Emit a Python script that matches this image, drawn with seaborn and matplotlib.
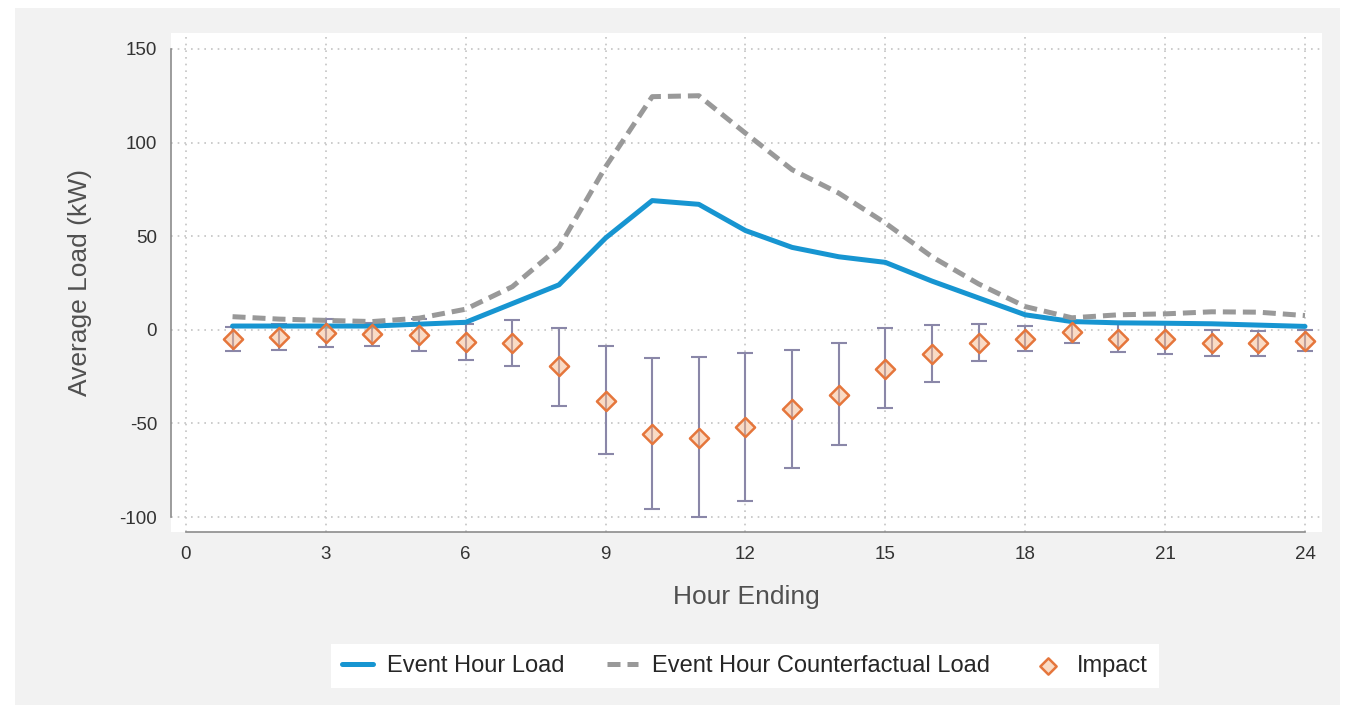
import numpy as np
import pandas as pd
import matplotlib
matplotlib.use("Agg")
import matplotlib.pyplot as plt
from matplotlib.patches import Rectangle
import seaborn as sns

# Data
hours = list(range(1, 25))
event_load = [2, 2, 2, 2, 3, 4, 14, 24, 49, 69, 67, 53,
              44, 39, 36, 26, 17, 8, 4.4, 3.7, 3.5, 3.2, 2.5, 1.8]
counterfactual_load = [7, 5.7, 5, 4.4, 6.2, 11, 23, 44, 87, 124.5, 125, 105,
                       85.5, 73, 57, 39, 24.5, 12.4, 6.4, 8, 8.5, 9.6, 9.4, 7.6]
impact = [-5, -3.9, -1.8, -2.5, -2.9, -6.6, -7.1, -19.6, -37.8, -55.6, -57.7, -52,
          -42.4, -34.7, -20.7, -12.8, -6.8, -4.8, -1.4, -4.8, -5, -7.1, -7.1, -5.9]
impact_lower = [-11.6, -11, -9.4, -8.5, -11.6, -16.4, -19.6, -40.6, -66.4, -95.8, -100.2, -91.2,
                -73.9, -61.8, -41.8, -27.9, -16.9, -11.6, -6.8, -12.1, -12.8, -13.9, -13.9, -11.6]
impact_upper = [1.6, 3.2, 5.5, 3.5, 5.5, 3.2, 5.3, 0.7, -8.9, -15.1, -14.8, -12.5,
                -10.7, -7.1, 0.7, 2.7, 3.2, 1.8, 4, 3, 3, 0, -0.4, 0]

x_ticks = [0, 3, 6, 9, 12, 15, 18, 21, 24]
y_ticks = [-100, -50, 0, 50, 100, 150]

df = pd.DataFrame({
    "hour": hours,
    "event": event_load,
    "counterfactual": counterfactual_load,
    "impact": impact,
    "lo": impact_lower,
    "hi": impact_upper,
})

BLUE = "#1795d1"
GRAY = "#999999"
BAR = "#8a87a8"
ORANGE = "#e5763c"
BG = "#f2f2f2"

sns.set_theme(style="white")
plt.rcParams["font.family"] = ["Liberation Sans", "DejaVu Sans"]
plt.rcParams["axes.unicode_minus"] = False

fig = plt.figure(figsize=(13.5, 7.15), dpi=100)
fig.patch.set_facecolor("white")
fig.patches.append(Rectangle((15 / 1350, 1 - 705 / 715), 1325 / 1350, 697 / 715,
                             transform=fig.transFigure, facecolor=BG,
                             edgecolor="none", zorder=-10))

ax = fig.add_axes([171 / 1350, 1 - 532 / 715, 1151 / 1350, 499 / 715])
ax.set_facecolor("white")

# confidence bars for the impact estimates
yerr = [df["impact"] - df["lo"], df["hi"] - df["impact"]]
ax.errorbar(df["hour"], df["impact"], yerr=yerr, fmt="none", ecolor=BAR,
            elinewidth=1.5, capsize=5.5, capthick=1.5, zorder=2)

sns.lineplot(data=df, x="hour", y="event", ax=ax, color=BLUE, linewidth=3.6,
             label="Event Hour Load", zorder=3)
sns.lineplot(data=df, x="hour", y="counterfactual", ax=ax, color=GRAY,
             linewidth=3.6, linestyle=(0, (2.6, 1.4)),
             label="Event Hour Counterfactual Load", zorder=3)
ax.lines[-1].set_dash_capstyle("butt")
sns.scatterplot(data=df, x="hour", y="impact", ax=ax, marker="D", s=95,
                facecolor=(0.97, 0.72, 0.55, 0.5), edgecolor=ORANGE,
                linewidth=1.8, label="Impact", zorder=4)

ax.set_xlim(-0.32, 24.365)
ax.set_ylim(-108.0, 158.5)
ax.set_xticks(x_ticks)
ax.set_yticks(y_ticks)
ax.grid(True, linestyle=(0, (1, 3)), color="#c4c4c4", linewidth=1.2)

for side in ["top", "right"]:
    ax.spines[side].set_visible(False)
ax.spines["left"].set_bounds(-100, 150)
ax.spines["bottom"].set_bounds(0, 24)
for side in ["left", "bottom"]:
    ax.spines[side].set_color("#8c8c8c")
    ax.spines[side].set_linewidth(1.2)

ax.tick_params(axis="both", which="major", direction="out", length=6,
               width=1.1, color="#8c8c8c", labelsize=13.5, labelcolor="#333333")
ax.tick_params(axis="y", pad=4)
ax.tick_params(axis="x", pad=4)

ax.set_xlabel("Hour Ending", fontsize=19, color="#505050", labelpad=16)
ax.set_ylabel("Average Load (kW)", fontsize=19, color="#505050", labelpad=20)

handles, labels = ax.get_legend_handles_labels()
ax.legend(handles, labels, ncol=3, loc="center",
          bbox_to_anchor=(745 / 1350, 1 - 666 / 715), bbox_transform=fig.transFigure,
          frameon=True, facecolor="white", edgecolor="none", fancybox=False,
          framealpha=1, fontsize=17, handlelength=1.3, handletextpad=0.6,
          columnspacing=1.8, borderpad=0.45, markerscale=0.85)

fig.savefig("out.png", dpi=100, facecolor=fig.get_facecolor())
